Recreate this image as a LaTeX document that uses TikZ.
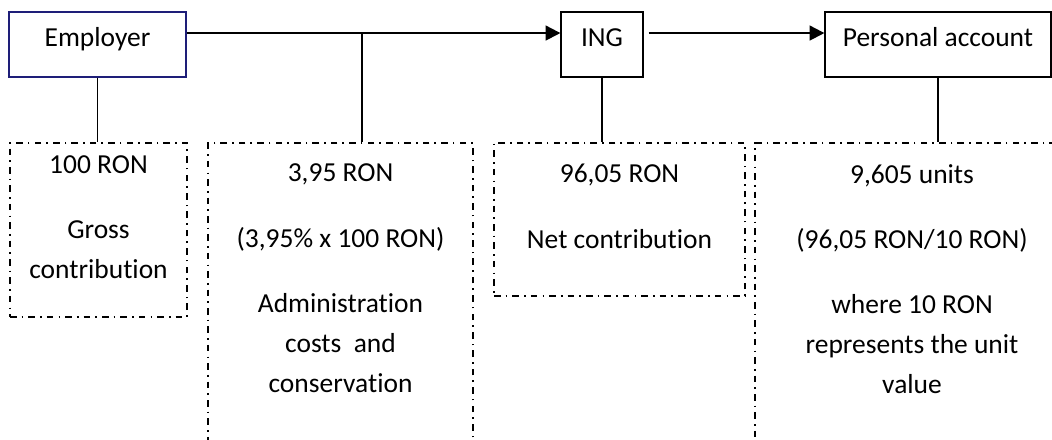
\documentclass[tikz,border=0pt]{standalone}
\usepackage{fontspec}
\setmainfont{Carlito}[Ligatures=NoCommon]
\usetikzlibrary{arrows.meta}
\definecolor{employerblue}{RGB}{30,30,120}

\begin{document}
\begin{tikzpicture}[x=0.75pt,y=-0.75pt,line cap=butt,>={Triangle[length=11pt,width=11pt]},
  font=\fontsize{20.6}{30}\selectfont,
  party/.style={draw,line width=0.9pt,minimum height=48.75pt,inner sep=0pt,text height=0.72em,text depth=0.4em},
  share/.style={draw,line width=1.1pt,dash pattern=on 5pt off 3.8pt on 1.2pt off 3.8pt,inner sep=0pt},
  note/.style={anchor=north,align=center,inner sep=0pt},
  flow/.style={line width=1.5pt},
  branch/.style={line width=1.3pt}]
\useasboundingbox (0,0) rectangle (1052,439);
\clip (0,0) rectangle (1052,439);
\node[party,draw=employerblue,minimum width=132.75pt] (employer) at (97.5,44.5) {Employer};
\node[party,minimum width=61.5pt] (ing) at (602,44.5) {ING};
\node[party,minimum width=169.5pt] (personal) at (938,44.5) {Personal account};
\node[share,minimum width=132.75pt,minimum height=130.5pt] (grossbox) at (98.5,230) {};
\node[share,minimum width=198.75pt,minimum height=237.75pt] (costsbox) at (340.5,301.5) {};
\node[share,minimum width=188.25pt,minimum height=114.75pt] (netbox) at (619.5,219.5) {};
\node[share,minimum width=235.5pt,minimum height=237.75pt] (unitbox) at (912,301.5) {};
\coordinate (split) at (362,33);
\draw[flow,->] ([yshift=8.6pt]employer.east) -- ([yshift=8.6pt]ing.west);
\draw[flow,->,shorten <=3.75pt] ([yshift=8.6pt]ing.east) -- ([yshift=8.6pt]personal.west);
\draw[branch] (employer.south) -- (employer.south |- grossbox.north);
\draw[branch] (split) -- (split |- costsbox.north);
\draw[branch] (ing.south) -- (ing.south |- netbox.north);
\draw[branch] (personal.south) -- (personal.south |- unitbox.north);
\node[note] (grosstxt) at ([yshift=-9.5pt]grossbox.north) {100 RON\\[19pt]Gross\\contribution};
\node[note] (coststxt) at ([yshift=-16.2pt]costsbox.north) {3,95 RON\\[19pt](3,95\% x 100 RON)\\[19pt]Administration\\costs\ \ and\\conservation};
\node[note] (nettxt) at ([yshift=-16.2pt]netbox.north) {96,05 RON\\[19pt]Net contribution};
\node[note] (unittxt) at ([yshift=-16.2pt]unitbox.north) {9,605 units\\[19pt](96,05 RON/10 RON)\\[19pt]where 10 RON\\represents the unit\\value};
\end{tikzpicture}
\end{document}
